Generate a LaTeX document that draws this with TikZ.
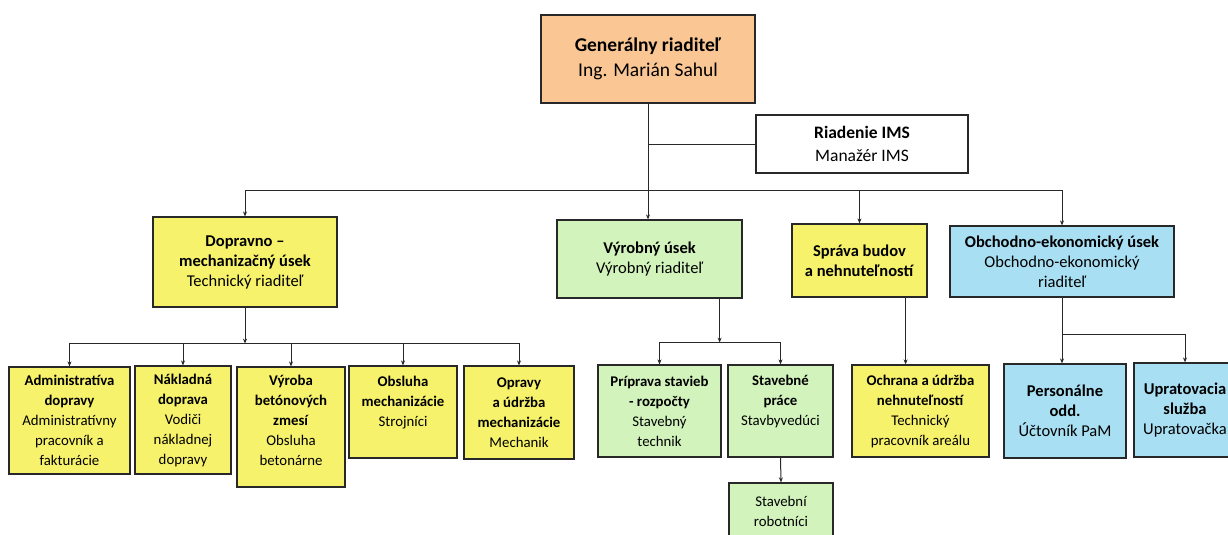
\documentclass[tikz,border=0pt]{standalone}
\usepackage{fontspec}
\setmainfont{Carlito}
\usetikzlibrary{arrows.meta, shadows}
\definecolor{orangebox}{RGB}{249, 198, 148}
\definecolor{yellowbox}{RGB}{247, 242, 108}
\definecolor{greenbox}{RGB}{210, 243, 188}
\definecolor{bluebox}{RGB}{168, 223, 243}
\definecolor{boxline}{RGB}{40, 40, 40}
\tikzstyle{unit} = [rectangle, draw=boxline, line width=1.2pt,
                    align=center, inner sep=1pt, text=black,
                    drop shadow={shadow xshift=1pt, shadow yshift=-1pt, opacity=0.35}]
\tikzstyle{headbox} = [unit, fill=orangebox, font=\fontsize{19.5}{25}\selectfont]
\tikzstyle{imsbox} = [unit, fill=white, font=\fontsize{17.5}{23}\selectfont]
\tikzstyle{division} = [unit, font=\fontsize{16.5}{20}\selectfont]
\tikzstyle{section} = [unit, font=\fontsize{14.8}{20}\selectfont]
\tikzstyle{arrow} = [line width=1pt, draw=boxline, -{Stealth[length=5pt, width=4pt]}]
\tikzstyle{link} = [line width=1pt, draw=boxline]

\begin{document}
\begin{tikzpicture}[x=1pt, y=-1pt]
        \useasboundingbox (0,0) rectangle (1228,535);
        \clip (0,0) rectangle (1228,535);
        \fill [white] (0,0) rectangle (1228,535);

        %Top management
        \node (gr) [headbox, minimum width=214pt, minimum height=88pt] at (648,59) {\textbf{Generálny riaditeľ}\\Ing. Marián Sahul};
        \node (ims) [imsbox, minimum width=212pt, minimum height=58pt] at (862,144) {\textbf{Riadenie IMS}\\Manažér IMS};

        %Divisions
        \node (dmu) [division, fill=yellowbox, minimum width=184pt, minimum height=90pt] at (245,262) {\textbf{Dopravno –}\\\textbf{mechanizačný úsek}\\Technický riaditeľ};
        \node (vyr) [division, fill=greenbox, minimum width=185pt, minimum height=78pt] at (649.5,259) {\textbf{Výrobný úsek}\\Výrobný riaditeľ};
        \node (spr) [division, fill=yellowbox, minimum width=135pt, minimum height=73pt] at (859.5,260.5) {\textbf{Správa budov}\\\textbf{a nehnuteľností}};
        \node (obe) [division, fill=bluebox, minimum width=224pt, minimum height=71pt] at (1062,261.5) {\textbf{Obchodno-ekonomický úsek}\\Obchodno-ekonomický\\riaditeľ};

        %Sections under Dopravno
        \node (adm) [section, fill=yellowbox, minimum width=121pt, minimum height=107pt] at (69.5,420.5) {\textbf{Administratíva}\\\textbf{dopravy}\\Administratívny\\pracovník a\\fakturácie};
        \node (nak) [section, fill=yellowbox, minimum width=96pt, minimum height=108pt] at (183,420) {\textbf{Nákladná}\\\textbf{doprava}\\Vodiči\\nákladnej\\dopravy};
        \node (vbz) [section, fill=yellowbox, minimum width=108pt, minimum height=120pt, text depth=14pt] at (291,427) {\textbf{Výroba}\\\textbf{betónových}\\\textbf{zmesí}\\Obsluha\\betonárne};
        \node (obm) [section, fill=yellowbox, minimum width=108pt, minimum height=92pt, text depth=21pt] at (403,412) {\textbf{Obsluha}\\\textbf{mechanizácie}\\Strojníci};
        \node (oum) [section, fill=yellowbox, minimum width=110pt, minimum height=93pt] at (519,412.5) {\textbf{Opravy}\\\textbf{a údržba}\\\textbf{mechanizácie}\\Mechanik};

        %Sections under Vyrobny
        \node (pri) [section, fill=greenbox, minimum width=123pt, minimum height=92pt] at (659.5,411) {\textbf{Príprava stavieb}\\\textbf{- rozpočty}\\Stavebný\\technik};
        \node (stp) [section, fill=greenbox, minimum width=105pt, minimum height=92pt, text depth=21pt] at (780.5,411) {\textbf{Stavebné}\\\textbf{práce}\\Stavbyvedúci};
        \node (rob) [section, fill=greenbox, minimum width=104pt, minimum height=56pt] at (781,511) {Stavební\\robotníci};

        %Sections under Sprava and Obchodno
        \node (och) [section, fill=yellowbox, minimum width=137pt, minimum height=92pt] at (920.5,411) {\textbf{Ochrana a údržba}\\\textbf{nehnuteľností}\\Technický\\pracovník areálu};
        \node (per) [division, fill=bluebox, minimum width=122pt, minimum height=94pt] at (1065,411) {\textbf{Personálne}\\\textbf{odd.}\\Účtovník PaM};
        \node (upr) [division, fill=bluebox, minimum width=102pt, minimum height=94pt] at (1185,410) {\textbf{Upratovacia}\\\textbf{služba}\\Upratovačka};

        %Main trunk and bus
        \path (gr.south) ++(0,87) coordinate (hub);
        \draw [arrow] (gr.south) -- (gr.south |- vyr.north);
        \draw [link] (gr.south |- ims.west) -- (ims.west);
        \draw [arrow] (hub) -| (dmu.north);
        \draw [arrow] (hub) -| (spr.north);
        \draw [arrow] (hub) -| (obe.north);

        %Dopravno to its sections
        \draw [arrow] (dmu.south) -- ++(0,36) coordinate (dmuhub);
        \foreach \n in {adm, nak, vbz, obm, oum}
            \draw [arrow] (dmuhub) -| (\n.north);

        %Vyrobny to its sections
        \draw [arrow] ([xshift=-23pt]vyr.south east) -- ++(0,44) coordinate (vyrhub);
        \foreach \n in {pri, stp}
            \draw [arrow] (vyrhub) -| (\n.north);
        \draw [arrow] (stp.south) -- (rob.north);

        %Sprava to Ochrana
        \coordinate (sprout) at ([xshift=-22pt]spr.south east);
        \draw [arrow] (sprout) -- (sprout |- och.north);

        %Obchodno to its sections
        \draw [arrow] (obe.south) -- (obe.south |- per.north);
        \draw [arrow] (obe.south) ++(0,37) -| (upr.north);

\end{tikzpicture}
\end{document}
